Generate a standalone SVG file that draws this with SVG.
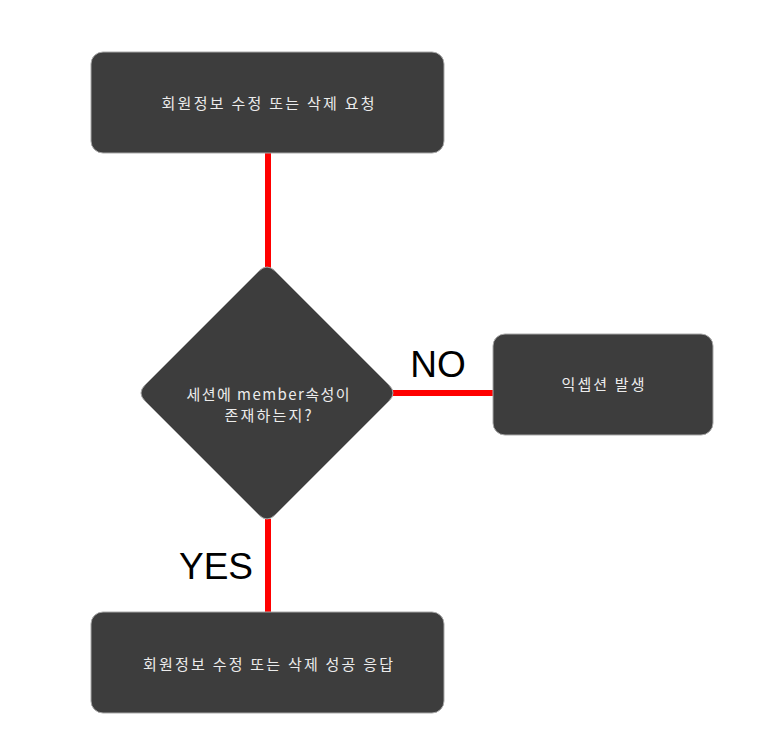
<svg xmlns="http://www.w3.org/2000/svg" width="764" height="750" viewBox="0 0 764 750">
<style>
.box{fill:#3d3d3d;stroke:#a8a8a8;stroke-width:1}
.t{fill:#ececec;font-family:"Noto Sans CJK KR","Noto Sans",sans-serif;font-size:15px;text-anchor:middle;dominant-baseline:central}
.lbl{fill:#000;font-family:"Liberation Sans",Arial,sans-serif;font-size:37px;text-anchor:middle}
.c{stroke:#ff0000;stroke-width:6;fill:none}
</style>
<rect width="764" height="750" fill="#ffffff"/>
<g id="connectors">
<line class="c" x1="268" y1="153" x2="268" y2="268"/>
<line class="c" x1="392" y1="393" x2="493" y2="393"/>
<line class="c" x1="268" y1="519" x2="268" y2="612"/>
</g>
<g id="n1">
<rect class="box" x="91" y="52" width="353" height="101" rx="12"/>
<text class="t" x="268" y="102" textLength="213" lengthAdjust="spacing">회원정보 수정 또는 삭제 요청</text>
</g>
<g id="n2">
<path class="box" d="M259,271 Q267,263 275,271 L389,385 Q397,393 389,401 L275,515 Q267,523 259,515 L145,401 Q137,393 145,385 Z"/>
<text class="t" x="268" y="393" textLength="163" lengthAdjust="spacing">세션에 member속성이</text>
<text class="t" x="268" y="414" textLength="87" lengthAdjust="spacing">존재하는지?</text>
</g>
<g id="n3">
<rect class="box" x="493" y="334" width="220" height="101" rx="12"/>
<text class="t" x="603" y="383" textLength="83" lengthAdjust="spacing">익셉션 발생</text>
</g>
<g id="n4">
<rect class="box" x="91" y="612" width="353" height="101" rx="12"/>
<text class="t" x="268" y="663" textLength="250" lengthAdjust="spacing">회원정보 수정 또는 삭제 성공 응답</text>
</g>
<text class="lbl" x="438" y="377">NO</text>
<text class="lbl" x="216" y="579">YES</text>
</svg>
